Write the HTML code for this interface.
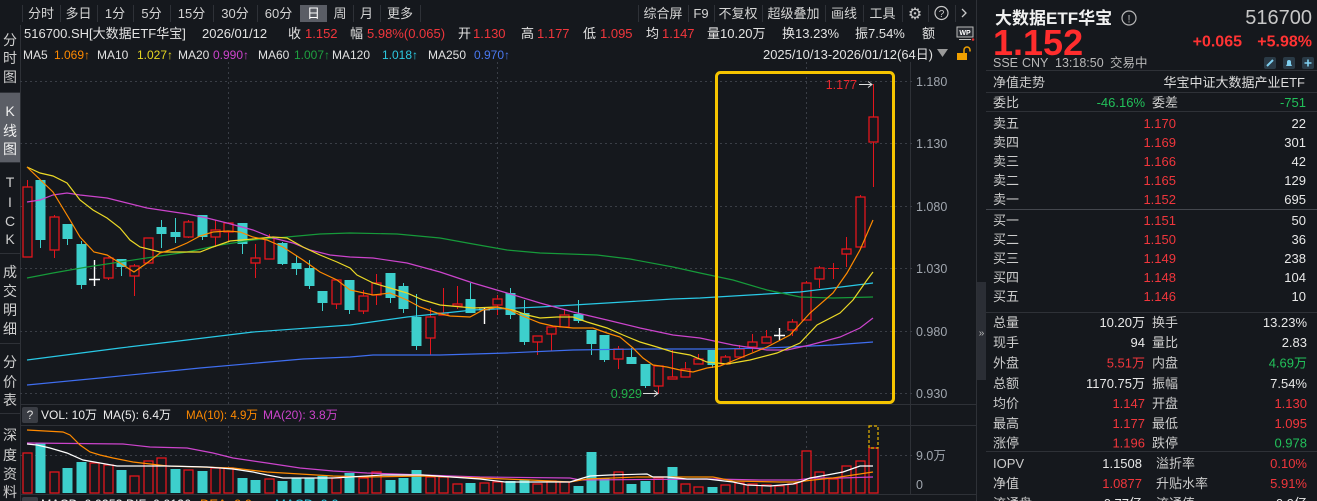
<!DOCTYPE html>
<html><head><meta charset="utf-8">
<style>
html,body{margin:0;padding:0;background:#15181d;}
#wrap{position:relative;width:1317px;height:501px;overflow:hidden;background:#15181d;}
svg{position:absolute;left:0;top:0;}
text{font-family:'Liberation Sans','Noto Sans CJK SC',sans-serif;}
.r{stroke:#e3161d;fill:#15181d;stroke-width:1.3;}
.rw{stroke:#e3161d;stroke-width:1;fill:none;}
.c{fill:#3dcfcc;stroke:none;}
.cw{stroke:#3dcfcc;stroke-width:1;fill:none;}
.ww{stroke:#ffffff;stroke-width:1.4;fill:none;}
.ln{stroke:#2e3137;stroke-width:1;}
.gd{stroke:#3a3e46;stroke-width:1;stroke-dasharray:2 3;}
.ma{fill:none;stroke-width:1.2;}
</style></head>
<body><div id="wrap">
<svg width="1317" height="501" viewBox="0 0 1317 501">
<!-- structural lines -->
<line class="ln" x1="20.5" y1="25" x2="20.5" y2="501"/>
<line class="ln" x1="976.5" y1="0" x2="976.5" y2="501"/>
<line class="ln" x1="910.5" y1="62" x2="910.5" y2="494"/>
<line class="ln" x1="20" y1="404.5" x2="976" y2="404.5"/>
<line class="ln" x1="20" y1="425.5" x2="976" y2="425.5"/>
<line class="ln" x1="20" y1="494.5" x2="976" y2="494.5"/>

<!-- sidebar -->
<rect x="0" y="93" width="20" height="69" fill="#5b5e66"/>
<line class="ln" x1="0" y1="92.5" x2="20" y2="92.5"/>
<line class="ln" x1="0" y1="162.5" x2="20" y2="162.5"/>
<line class="ln" x1="0" y1="253.5" x2="20" y2="253.5"/>
<line class="ln" x1="0" y1="343.5" x2="20" y2="343.5"/>
<line class="ln" x1="0" y1="413.5" x2="20" y2="413.5"/>
<g font-size="14" fill="#cfcfcf" text-anchor="middle">
<text x="10" y="45">分</text><text x="10" y="63">时</text><text x="10" y="82">图</text>
<text x="10" y="116" fill="#f0f0f0">K</text><text x="10" y="136" fill="#f0f0f0">线</text><text x="10" y="154" fill="#f0f0f0">图</text>
<text x="10" y="187">T</text><text x="10" y="207">I</text><text x="10" y="226">C</text><text x="10" y="244">K</text>
<text x="10" y="277">成</text><text x="10" y="296">交</text><text x="10" y="315">明</text><text x="10" y="334">细</text>
<text x="10" y="367">分</text><text x="10" y="387">价</text><text x="10" y="405">表</text>
<text x="10" y="440">深</text><text x="10" y="460">度</text><text x="10" y="479">资</text><text x="10" y="497">料</text>
</g>

<!-- top toolbar -->
<rect x="300" y="5" width="27" height="17" fill="#5a5d65"/>
<g class="ln">
<line x1="22.5" y1="5" x2="22.5" y2="22"/><line x1="60.5" y1="5" x2="60.5" y2="22"/><line x1="97.5" y1="5" x2="97.5" y2="22"/>
<line x1="133.5" y1="5" x2="133.5" y2="22"/><line x1="170.5" y1="5" x2="170.5" y2="22"/><line x1="213.5" y1="5" x2="213.5" y2="22"/>
<line x1="257.5" y1="5" x2="257.5" y2="22"/><line x1="353.5" y1="5" x2="353.5" y2="22"/><line x1="380.5" y1="5" x2="380.5" y2="22"/><line x1="420.5" y1="5" x2="420.5" y2="22"/>
<line x1="638.5" y1="5" x2="638.5" y2="22"/><line x1="688.5" y1="5" x2="688.5" y2="22"/><line x1="714.5" y1="5" x2="714.5" y2="22"/>
<line x1="762.5" y1="5" x2="762.5" y2="22"/><line x1="825.5" y1="5" x2="825.5" y2="22"/><line x1="863.5" y1="5" x2="863.5" y2="22"/>
<line x1="902.5" y1="5" x2="902.5" y2="22"/><line x1="928.5" y1="5" x2="928.5" y2="22"/><line x1="955.5" y1="5" x2="955.5" y2="22"/>
</g>
<g font-size="13" fill="#d4d4d4" text-anchor="middle">
<text x="41" y="18">分时</text><text x="78.5" y="18">多日</text><text x="115" y="18">1分</text><text x="151.5" y="18">5分</text>
<text x="191.5" y="18">15分</text><text x="235" y="18">30分</text><text x="278.5" y="18">60分</text><text x="313.5" y="18" fill="#fff">日</text>
<text x="340" y="18">周</text><text x="366.5" y="18">月</text><text x="400" y="18">更多</text>
<text x="663" y="18">综合屏</text><text x="701" y="18">F9</text><text x="738" y="18">不复权</text><text x="793.5" y="18">超级叠加</text>
<text x="844" y="18">画线</text><text x="882.5" y="18">工具</text>
</g>
<text x="915" y="19" font-size="16" fill="#c8c8c8" text-anchor="middle" style="font-family:'DejaVu Sans',sans-serif">⚙</text>
<circle cx="941.5" cy="13" r="6.5" fill="none" stroke="#c8c8c8" stroke-width="1.2"/>
<text x="941.5" y="17" font-size="10" fill="#c8c8c8" text-anchor="middle">?</text>
<path d="M962 9 L966 13 L962 17" fill="none" stroke="#c8c8c8" stroke-width="1.3"/>

<!-- info line 2 -->
<g font-size="13" fill="#e2e2e2">
<text x="24" y="38">516700.SH[大数据ETF华宝]</text>
<text x="202" y="38">2026/01/12</text>
<text x="288" y="38">收</text><text x="305" y="38" fill="#f0363c">1.152</text>
<text x="350" y="38">幅</text><text x="367" y="38" fill="#f0363c">5.98%(0.065)</text>
<text x="458" y="38">开</text><text x="473" y="38" fill="#f0363c">1.130</text>
<text x="521" y="38">高</text><text x="537" y="38" fill="#f0363c">1.177</text>
<text x="583" y="38">低</text><text x="600" y="38" fill="#f0363c">1.095</text>
<text x="646" y="38">均</text><text x="662" y="38" fill="#f0363c">1.147</text>
<text x="707" y="38">量10.20万</text>
<text x="782" y="38">换13.23%</text>
<text x="855" y="38">振7.54%</text>
<text x="922" y="38">额</text>
</g>
<rect x="957" y="27" width="16" height="10" fill="#2a2d33" stroke="#bbbbbb" stroke-width="1"/>
<text x="965" y="35" font-size="7" font-weight="bold" fill="#ffffff" text-anchor="middle">WP</text>
<line x1="959" y1="39.5" x2="971" y2="39.5" stroke="#bbbbbb"/>
<circle cx="973" cy="39.5" r="1.3" fill="#e03030"/>

<!-- info line 3 -->
<g font-size="12" fill="#e2e2e2">
<text x="23" y="59">MA5</text><text x="54" y="59" fill="#ff8a00">1.069↑</text>
<text x="97" y="59">MA10</text><text x="137" y="59" fill="#e6d622">1.027↑</text>
<text x="178" y="59">MA20</text><text x="213" y="59" fill="#cc44cc">0.990↑</text>
<text x="258" y="59">MA60</text><text x="294" y="59" fill="#1fa040">1.007↑</text>
<text x="332" y="59">MA120</text><text x="382" y="59" fill="#2cc8e0">1.018↑</text>
<text x="428" y="59">MA250</text><text x="474" y="59" fill="#4a78f0">0.970↑</text>
</g>
<text x="763" y="59" font-size="13" fill="#e2e2e2" textLength="170" lengthAdjust="spacingAndGlyphs">2025/10/13-2026/01/12(64日)</text>
<path d="M937 49 L948 49 L942.5 57 Z" fill="#9a9a9a"/>
<rect x="957" y="53" width="10" height="7" fill="#f0a000"/>
<path d="M964 53 V50 a3 3 0 0 1 6 0 V51.5" fill="none" stroke="#f0a000" stroke-width="1.5"/>

<!-- grid -->
<g class="gd">
<line x1="20" y1="81.5" x2="915" y2="81.5"/><line x1="20" y1="143.5" x2="915" y2="143.5"/>
<line x1="20" y1="206.5" x2="915" y2="206.5"/><line x1="20" y1="268.5" x2="915" y2="268.5"/>
<line x1="20" y1="331.5" x2="915" y2="331.5"/><line x1="20" y1="393.5" x2="915" y2="393.5"/>
<line x1="228.5" y1="62" x2="228.5" y2="404"/><line x1="497.5" y1="62" x2="497.5" y2="404"/><line x1="806.5" y1="62" x2="806.5" y2="404"/>
<line x1="228.5" y1="426" x2="228.5" y2="494"/><line x1="497.5" y1="426" x2="497.5" y2="494"/><line x1="806.5" y1="426" x2="806.5" y2="494"/>
<line x1="20" y1="455.5" x2="915" y2="455.5"/>
</g>
<g font-size="12.5" fill="#a0a6ae">
<text x="916" y="86">1.180</text><text x="916" y="148">1.130</text><text x="916" y="211">1.080</text>
<text x="916" y="273">1.030</text><text x="916" y="336">0.980</text><text x="916" y="398">0.930</text>
<text x="916" y="460">9.0万</text><text x="916" y="489">0</text>
</g>

<!-- candles -->
<g>
<path class="rw" d="M27.5 180V257"/><rect class="r" x="23" y="187" width="9" height="70"/>
<path class="cw" d="M40.5 180V248"/><rect class="c" x="35.5" y="180" width="10" height="60"/>
<path class="rw" d="M54.5 215V258"/><rect class="r" x="50" y="217" width="9" height="33"/>
<path class="cw" d="M67.5 224V245"/><rect class="c" x="62.5" y="224" width="10" height="15"/>
<path class="cw" d="M81.5 241V289"/><rect class="c" x="76.5" y="244" width="10" height="41"/>
<path class="ww" d="M94.5 260V286M89 279.5H100"/>
<path class="rw" d="M108.5 257V280"/><rect class="r" x="104" y="258" width="9" height="20"/>
<path class="cw" d="M121.5 259V276"/><rect class="c" x="116.5" y="259" width="10" height="8"/>
<path class="rw" d="M134.5 264V296"/><rect class="r" x="130" y="266" width="9" height="10"/>
<path class="rw" d="M148.5 238V263"/><rect class="r" x="144" y="238" width="9" height="25"/>
<path class="cw" d="M161.5 220V248"/><rect class="c" x="156.5" y="227" width="10" height="7"/>
<path class="cw" d="M175.5 218V243"/><rect class="c" x="170.5" y="232" width="10" height="5"/>
<path class="rw" d="M188.5 220V238"/><rect class="r" x="184" y="222" width="9" height="15"/>
<path class="cw" d="M202.5 215V240"/><rect class="c" x="197.5" y="215" width="10" height="22"/>
<path class="rw" d="M215.5 220V247"/><rect class="r" x="211" y="230" width="9" height="7"/>
<path class="rw" d="M228.5 223V242"/><rect class="r" x="224" y="223" width="9" height="9"/>
<path class="cw" d="M242.5 223V254"/><rect class="c" x="237.5" y="223" width="10" height="21"/>
<path class="rw" d="M255.5 244V278"/><rect class="r" x="251" y="258" width="9" height="5"/>
<path class="rw" d="M269.5 234V259"/><rect class="r" x="265" y="238" width="9" height="21"/>
<path class="cw" d="M282.5 242V265"/><rect class="c" x="277.5" y="243" width="10" height="21"/>
<path class="cw" d="M296.5 256V275"/><rect class="c" x="291.5" y="263" width="10" height="6"/>
<path class="cw" d="M309.5 260V289"/><rect class="c" x="304.5" y="268" width="10" height="18"/>
<path class="cw" d="M322.5 291V311"/><rect class="c" x="317.5" y="291" width="10" height="12"/>
<path class="rw" d="M336.5 280V309"/><rect class="r" x="332" y="280" width="9" height="24"/>
<path class="cw" d="M349.5 280V314"/><rect class="c" x="344.5" y="280" width="10" height="30"/>
<path class="rw" d="M363.5 290V314"/><rect class="r" x="359" y="296" width="9" height="15"/>
<path class="rw" d="M376.5 274V305"/><rect class="r" x="372" y="283" width="9" height="12"/>
<path class="cw" d="M390.5 273V303"/><rect class="c" x="385.5" y="273" width="10" height="25"/>
<path class="cw" d="M403.5 283V313"/><rect class="c" x="398.5" y="286" width="10" height="23"/>
<path class="cw" d="M416.5 294V350"/><rect class="c" x="411.5" y="317" width="10" height="29"/>
<path class="rw" d="M430.5 308V355"/><rect class="r" x="426" y="317" width="9" height="21"/>
<path class="rw" d="M443.5 288V315"/><rect class="r" x="439" y="313" width="9" height="2"/>
<path class="rw" d="M457.5 286V309"/><rect class="r" x="453" y="304" width="9" height="2"/>
<path class="cw" d="M470.5 283V313"/><rect class="c" x="465.5" y="299" width="10" height="14"/>
<path class="ww" d="M484.5 308V324M479 309.5H490"/>
<path class="rw" d="M497.5 295V315"/><rect class="r" x="493" y="299" width="9" height="6"/>
<path class="cw" d="M510.5 288V319"/><rect class="c" x="505.5" y="293" width="10" height="22"/>
<path class="cw" d="M524.5 300V345"/><rect class="c" x="519.5" y="313" width="10" height="29"/>
<path class="rw" d="M537.5 336V355"/><rect class="r" x="533" y="336" width="9" height="6"/>
<path class="rw" d="M551.5 327V351"/><rect class="r" x="547" y="327" width="9" height="7"/>
<path class="rw" d="M564.5 309V327"/><rect class="r" x="560" y="315" width="9" height="12"/>
<path class="cw" d="M578.5 300V323"/><rect class="c" x="573.5" y="314" width="10" height="7"/>
<path class="cw" d="M591.5 330V355"/><rect class="c" x="586.5" y="330" width="10" height="14"/>
<path class="cw" d="M604.5 335V362"/><rect class="c" x="599.5" y="335" width="10" height="25"/>
<path class="rw" d="M618.5 346V369"/><rect class="r" x="614" y="349" width="9" height="10"/>
<path class="cw" d="M631.5 348V364"/><rect class="c" x="626.5" y="357" width="10" height="7"/>
<path class="cw" d="M645.5 364V388"/><rect class="c" x="640.5" y="364" width="10" height="22"/>
<path class="rw" d="M658.5 366V394"/><rect class="r" x="654" y="366" width="9" height="20"/>
<path class="rw" d="M672.5 350V379"/><rect class="r" x="668" y="377" width="9" height="2"/>
<path class="rw" d="M685.5 362V377"/><rect class="r" x="681" y="369" width="9" height="8"/>
<path class="rw" d="M698.5 354V364"/><rect class="r" x="694" y="359" width="9" height="5"/>
<path class="cw" d="M712.5 350V368"/><rect class="c" x="707.5" y="350" width="10" height="15"/>
<path class="rw" d="M725.5 355V364"/><rect class="r" x="721" y="357" width="9" height="7"/>
<path class="rw" d="M739.5 345V357"/><rect class="r" x="735" y="349" width="9" height="8"/>
<path class="rw" d="M752.5 334V352"/><rect class="r" x="748" y="342" width="9" height="5"/>
<path class="rw" d="M766.5 330V343"/><rect class="r" x="762" y="337" width="9" height="6"/>
<path class="ww" d="M779.5 328V340M774 335.5H785"/>
<path class="rw" d="M792.5 319V336"/><rect class="r" x="788" y="322" width="9" height="8"/>
<path class="rw" d="M806.5 281V320"/><rect class="r" x="802" y="283" width="9" height="37"/>
<path class="rw" d="M819.5 266V288"/><rect class="r" x="815" y="268" width="9" height="11"/>
<path class="rw" d="M833.5 263V279M828 268.5H839"/>
<path class="rw" d="M846.5 237V267"/><rect class="r" x="842" y="249" width="9" height="5"/>
<path class="rw" d="M860.5 195V247"/><rect class="r" x="856" y="197" width="9" height="50"/>
<path class="rw" d="M873.5 84V187"/><rect class="r" x="869" y="117" width="9" height="25"/>
</g>

<!-- MA lines -->
<polyline class="ma" stroke="#3f6ef0" points="27,385 100,378 200,368 303,359 350,357 373,355 440,355 507,353 573,350 640,349 720,349 767,348 833,345 873,342"/>
<polyline class="ma" stroke="#29c9e6" points="27,360 120,348 187,340 253,332 350,325 407,317 473,310 540,307 607,303 673,299 700,298 750,295 800,292 833,288 873,283"/>
<polyline class="ma" stroke="#169a3a" points="27,278 53,273 87,267 120,262 153,257 187,252 220,245 253,240 287,237 320,234 350,233 397,234 440,238 473,244 507,250 540,253 597,255 630,259 673,267 700,273 733,280 767,290 800,297 833,298 873,297"/>
<polyline class="ma" stroke="#cc44cc" points="27,202 40,200 53,195 67,193 80,195 107,198 127,203 147,208 167,211 187,214 207,218 227,223 253,230 273,238 293,243 310,250 330,255 350,257 373,258 407,263 440,272 473,283 507,293 540,303 573,312 607,320 640,328 673,335 700,338 733,345 767,350 787,350 810,345 840,337 860,328 873,318"/>
<polyline class="ma" stroke="#ecd926" points="27,167 40,173 53,176 67,183 80,200 93,210 107,218 120,228 130,240 140,247 160,252 173,252 200,252 213,247 230,241 253,239 273,237 287,238 303,247 320,255 337,262 350,268 357,275 373,283 390,288 407,293 423,300 440,305 473,308 497,307 513,310 527,315 540,318 557,317 573,317 587,322 607,328 623,335 640,342 657,347 673,352 690,355 707,362 727,364 750,360 777,353 800,343 817,325 840,313 853,300 867,280 873,272"/>
<polyline class="ma" stroke="#ff8a00" points="27,167 53,192 70,220 80,237 94,252 107,255 120,263 134,272 147,263 160,253 173,249 187,243 200,236 213,232 228,231 240,232 253,237 267,240 283,247 303,260 320,272 337,280 350,290 373,295 390,293 407,300 420,307 437,313 450,316 470,317 483,310 497,307 510,310 520,315 540,323 553,326 573,328 593,328 607,333 620,337 633,348 643,358 653,365 667,367 680,370 693,372 707,368 720,366 740,358 767,347 790,335 810,313 833,293 847,273 860,250 873,220"/>

<!-- high/low markers -->
<text x="857" y="89" font-size="12.5" fill="#e8282e" text-anchor="end">1.177</text>
<path d="M859 84.5H872M868 81.5L872 84.5L868 87.5" fill="none" stroke="#dddddd" stroke-width="1"/>
<text x="642" y="398" font-size="12.5" fill="#22b04a" text-anchor="end">0.929</text>
<path d="M643 393.5H658M654 390.5L658 393.5L654 396.5" fill="none" stroke="#dddddd" stroke-width="1"/>

<!-- highlight box -->
<rect x="716.5" y="72.5" width="177" height="330" rx="4" fill="none" stroke="#f5c400" stroke-width="3"/>

<!-- volume header -->
<rect x="22" y="407" width="16" height="16" rx="2" fill="#3a3d44"/>
<text x="30" y="419" font-size="12" fill="#dddddd" text-anchor="middle">?</text>
<g font-size="12">
<text x="41" y="419" fill="#eeeeee">VOL: 10万</text>
<text x="103" y="419" fill="#eeeeee">MA(5): 6.4万</text>
<text x="186" y="419" fill="#ff8a00" textLength="72" lengthAdjust="spacingAndGlyphs">MA(10): 4.9万</text>
<text x="263" y="419" fill="#cc44cc">MA(20): 3.8万</text>
</g>

<!-- volume bars -->
<g>
<rect class="r" x="23" y="453" width="9" height="40"/>
<rect class="c" x="35.5" y="443" width="10" height="50"/>
<rect class="r" x="50" y="472" width="9" height="21"/>
<rect class="c" x="62.5" y="468" width="10" height="25"/>
<rect class="c" x="76.5" y="462" width="10" height="31"/>
<rect class="r" x="90" y="463" width="9" height="30"/>
<rect class="r" x="104" y="465" width="9" height="28"/>
<rect class="c" x="116.5" y="470" width="10" height="23"/>
<rect class="r" x="130" y="476" width="9" height="17"/>
<rect class="r" x="144" y="461" width="9" height="32"/>
<rect class="r" x="157" y="458" width="9" height="35"/>
<rect class="c" x="170.5" y="469" width="10" height="24"/>
<rect class="r" x="184" y="470" width="9" height="23"/>
<rect class="c" x="197.5" y="471" width="10" height="22"/>
<rect class="r" x="211" y="468" width="9" height="25"/>
<rect class="r" x="224" y="468" width="9" height="25"/>
<rect class="c" x="237.5" y="478" width="10" height="15"/>
<rect class="c" x="250.5" y="480" width="10" height="13"/>
<rect class="r" x="265" y="479" width="9" height="14"/>
<rect class="c" x="277.5" y="481" width="10" height="12"/>
<rect class="c" x="291.5" y="478" width="10" height="15"/>
<rect class="c" x="304.5" y="478" width="10" height="15"/>
<rect class="c" x="317.5" y="476" width="10" height="17"/>
<rect class="r" x="332" y="478" width="9" height="15"/>
<rect class="c" x="344.5" y="473" width="10" height="20"/>
<rect class="r" x="359" y="478" width="9" height="15"/>
<rect class="r" x="372" y="472" width="9" height="21"/>
<rect class="c" x="385.5" y="480" width="10" height="13"/>
<rect class="c" x="398.5" y="478" width="10" height="15"/>
<rect class="c" x="411.5" y="470" width="10" height="23"/>
<rect class="r" x="426" y="477" width="9" height="16"/>
<rect class="r" x="439" y="477" width="9" height="16"/>
<rect class="r" x="453" y="484" width="9" height="9"/>
<rect class="c" x="465.5" y="483" width="10" height="10"/>
<rect class="r" x="480" y="483" width="9" height="10"/>
<rect class="r" x="493" y="482" width="9" height="11"/>
<rect class="c" x="505.5" y="481" width="10" height="12"/>
<rect class="c" x="519.5" y="480" width="10" height="13"/>
<rect class="r" x="533" y="484" width="9" height="9"/>
<rect class="r" x="547" y="481" width="9" height="12"/>
<rect class="r" x="560" y="482" width="9" height="11"/>
<rect class="c" x="573.5" y="486" width="10" height="7"/>
<rect class="c" x="586.5" y="452" width="10" height="41"/>
<rect class="c" x="599.5" y="478" width="10" height="15"/>
<rect class="r" x="614" y="472" width="9" height="21"/>
<rect class="c" x="626.5" y="484" width="10" height="9"/>
<rect class="c" x="640.5" y="481" width="10" height="12"/>
<rect class="r" x="654" y="478" width="9" height="15"/>
<rect class="c" x="667.5" y="467" width="10" height="26"/>
<rect class="r" x="681" y="484" width="9" height="9"/>
<rect class="r" x="694" y="487" width="9" height="6"/>
<rect class="c" x="707.5" y="487" width="10" height="6"/>
<rect class="r" x="721" y="485" width="9" height="8"/>
<rect class="r" x="735" y="483" width="9" height="10"/>
<rect class="r" x="748" y="484" width="9" height="9"/>
<rect class="r" x="762" y="485" width="9" height="8"/>
<rect class="r" x="775" y="486" width="9" height="7"/>
<rect class="r" x="788" y="484" width="9" height="9"/>
<rect class="r" x="802" y="451" width="9" height="42"/>
<rect class="r" x="815" y="472" width="9" height="21"/>
<rect class="r" x="829" y="479" width="9" height="14"/>
<rect class="r" x="842" y="466" width="9" height="27"/>
<rect class="r" x="856" y="461" width="9" height="32"/>
<rect class="r" x="869" y="448" width="9" height="45"/>
<rect x="869" y="426" width="9" height="22" fill="none" stroke="#e8b400" stroke-width="1.2" stroke-dasharray="3 2"/>
</g>
<polyline class="ma" stroke="#cc44cc" points="27,443 123,444 150,447 187,448 213,453 233,458 267,463 300,468 333,471 367,473 423,475 480,477 570,478 580,480 713,479 760,480 797,480 813,478 840,478 873,477"/>
<polyline class="ma" stroke="#ff8a00" points="27,430 63,432 70,435 80,445 90,452 100,455 113,458 133,462 167,466 233,468 267,472 300,474 333,476 367,477 423,476 480,478 530,480 570,482 587,479 637,477 680,477 713,477 733,481 780,482 797,482 813,480 833,478 853,475 873,472"/>
<polyline class="ma" stroke="#ffffff" points="27,444 37,445 50,448 67,453 83,460 100,463 117,466 167,466 207,467 233,469 253,472 267,475 283,478 333,478 350,477 383,475 423,475 480,479 505,482 570,482 583,478 590,476 610,475 647,474 653,477 667,477 687,479 707,479 733,482 747,485 770,486 793,484 800,482 810,478 827,475 843,472 860,466 873,466"/>

<!-- bottom cut row -->
<rect x="22" y="497" width="16" height="16" rx="2" fill="#3a3d44"/>
<g font-size="13">
<text x="41" y="508.5" fill="#eeeeee" textLength="150" lengthAdjust="spacingAndGlyphs">MACD: 0.0253 DIF: 0.0126</text>
<text x="200" y="508.5" fill="#ff8a00">DEA: 0.0</text>
<text x="275" y="508.5" fill="#2cc8e0">MACD: 0.0</text>
</g>

<!-- right panel -->
<rect x="977" y="282" width="9" height="98" fill="#2b2e35"/>
<text x="981.5" y="336" font-size="10" fill="#bbbbbb" text-anchor="middle">»</text>
<text x="995" y="24" font-size="17" font-weight="bold" fill="#f0f0f0">大数据ETF华宝</text>
<circle cx="1129" cy="18" r="7" fill="none" stroke="#b8b8b8" stroke-width="1.2"/>
<text x="1129" y="22.5" font-size="11" fill="#b8b8b8" text-anchor="middle">!</text>
<text x="1312" y="24" font-size="20" fill="#c8c8c8" text-anchor="end">516700</text>
<text x="993" y="55" font-size="36" font-weight="bold" fill="#ff2d2d">1.152</text>
<text x="1242" y="46.5" font-size="16" font-weight="bold" fill="#ff3333" text-anchor="end">+0.065</text>
<text x="1312" y="46.5" font-size="16" font-weight="bold" fill="#ff3333" text-anchor="end">+5.98%</text>
<g font-size="12.5" fill="#b8b8b8">
<text x="993" y="67">SSE</text><text x="1022" y="67">CNY</text><text x="1055" y="67">13:18:50</text><text x="1110" y="67">交易中</text>
</g>
<rect x="1264" y="57" width="12" height="12" rx="2" fill="#2a3a46"/>
<path d="M1267 66 L1273 60" stroke="#7fd0f0" stroke-width="2"/>
<rect x="1283" y="57" width="12" height="12" rx="2" fill="#2a3a46"/>
<path d="M1286 66 H1292 L1291 64 V62 a2 2 0 0 0 -4 0 V64 Z" fill="#7fd0f0"/>
<rect x="1302" y="57" width="12" height="12" rx="2" fill="#2a3a46"/>
<path d="M1308 59.5V66.5M1304.5 63H1311.5" stroke="#7fd0f0" stroke-width="1.6"/>

<g class="ln">
<line x1="986" y1="70.5" x2="1317" y2="70.5"/>
<line x1="986" y1="92.5" x2="1317" y2="92.5"/>
<line x1="986" y1="111.5" x2="1317" y2="111.5"/>
<line x1="986" y1="209.5" x2="1317" y2="209.5" stroke="#44474e"/>
<line x1="986" y1="312.5" x2="1317" y2="312.5"/>
<line x1="986" y1="451.5" x2="1317" y2="451.5"/>
</g>
<g font-size="13" fill="#cccccc">
<text x="993" y="87">净值走势</text>
<text x="1305" y="87" text-anchor="end" fill="#dddddd">华宝中证大数据产业ETF</text>
<text x="993" y="107">委比</text><text x="1145" y="107" text-anchor="end" fill="#22c05a">-46.16%</text>
<text x="1152" y="107">委差</text><text x="1306" y="107" text-anchor="end" fill="#22c05a">-751</text>

<text x="993" y="128">卖五</text><text x="993" y="147">卖四</text><text x="993" y="166">卖三</text><text x="993" y="185">卖二</text><text x="993" y="204">卖一</text>
<text x="993" y="225">买一</text><text x="993" y="244">买二</text><text x="993" y="263">买三</text><text x="993" y="282">买四</text><text x="993" y="301">买五</text>
</g>
<g font-size="13" fill="#f0363c" text-anchor="end">
<text x="1176" y="128">1.170</text><text x="1176" y="147">1.169</text><text x="1176" y="166">1.166</text><text x="1176" y="185">1.165</text><text x="1176" y="204">1.152</text>
<text x="1176" y="225">1.151</text><text x="1176" y="244">1.150</text><text x="1176" y="263">1.149</text><text x="1176" y="282">1.148</text><text x="1176" y="301">1.146</text>
</g>
<g font-size="13" fill="#e8e8e8" text-anchor="end">
<text x="1306" y="128">22</text><text x="1306" y="147">301</text><text x="1306" y="166">42</text><text x="1306" y="185">129</text><text x="1306" y="204">695</text>
<text x="1306" y="225">50</text><text x="1306" y="244">36</text><text x="1306" y="263">238</text><text x="1306" y="282">104</text><text x="1306" y="301">10</text>
</g>

<g font-size="13" fill="#cccccc">
<text x="993" y="327">总量</text><text x="993" y="347">现手</text><text x="993" y="367.5">外盘</text><text x="993" y="388">总额</text>
<text x="993" y="408">均价</text><text x="993" y="428">最高</text><text x="993" y="447.5">涨停</text>
<text x="1152" y="327">换手</text><text x="1152" y="347">量比</text><text x="1152" y="367.5">内盘</text><text x="1152" y="388">振幅</text>
<text x="1152" y="408">开盘</text><text x="1152" y="428">最低</text><text x="1152" y="447.5">跌停</text>
<text x="993" y="468">IOPV</text><text x="993" y="488">净值</text><text x="993" y="508">流通盘</text>
<text x="1156" y="468">溢折率</text><text x="1156" y="488">升贴水率</text><text x="1156" y="508">流通值</text>
</g>
<g font-size="13" text-anchor="end">
<text x="1145" y="327" fill="#e8e8e8">10.20万</text>
<text x="1145" y="347" fill="#e8e8e8">94</text>
<text x="1145" y="367.5" fill="#f0363c">5.51万</text>
<text x="1145" y="388" fill="#e8e8e8">1170.75万</text>
<text x="1145" y="408" fill="#f0363c">1.147</text>
<text x="1145" y="428" fill="#f0363c">1.177</text>
<text x="1145" y="447.5" fill="#f0363c">1.196</text>
<text x="1307" y="327" fill="#e8e8e8">13.23%</text>
<text x="1307" y="347" fill="#e8e8e8">2.83</text>
<text x="1307" y="367.5" fill="#22c05a">4.69万</text>
<text x="1307" y="388" fill="#e8e8e8">7.54%</text>
<text x="1307" y="408" fill="#f0363c">1.130</text>
<text x="1307" y="428" fill="#f0363c">1.095</text>
<text x="1307" y="447.5" fill="#22c05a">0.978</text>
<text x="1142" y="468" fill="#e8e8e8">1.1508</text>
<text x="1142" y="488" fill="#f0363c">1.0877</text>
<text x="1142" y="508" fill="#e8e8e8">0.77亿</text>
<text x="1307" y="468" fill="#f0363c">0.10%</text>
<text x="1307" y="488" fill="#f0363c">5.91%</text>
<text x="1307" y="508" fill="#e8e8e8">0.9亿</text>
</g>
</svg>
</div></body></html>
